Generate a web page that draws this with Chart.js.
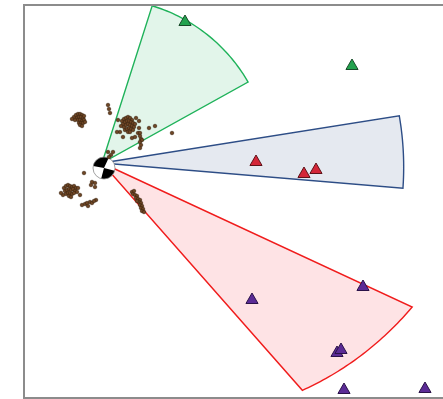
<!DOCTYPE html>
<html>
<head>
<meta charset="utf-8">
<script src="https://cdn.jsdelivr.net/npm/chart.js@4"></script>
<style>
    html, body { margin: 0; padding: 0; background: #ffffff; overflow: hidden; }
    #map { display: block; }
</style>
</head>
<body>
<canvas id="map" width="443" height="399"></canvas>
<script>
// Map extent (local east / north units)
const xRange = [0, 419];
const yRange = [0, 393];

// Epicentre and focal mechanism
const epicentre = [78, 235];
const mechanismCentre = [80, 230];
const mechanismRadius = 11;

// Azimuth sectors: start/end azimuth (deg from north) and reach at each edge
const sectorNames = ['north-east', 'east', 'south-east'];
const sectorAzStart = [17.7, 81.0, 114.9];
const sectorAzEnd = [61.0, 94.8, 138.6];
const sectorReachStart = [165, 301, 342];
const sectorReachEnd = [167, 302, 303];

// Stations
const greenStations = [[161, 376], [328, 332]];
const redStations = [[232, 236], [280, 224], [292, 228]];
const purpleStations = [[228, 98], [339, 111], [313, 45], [317, 48], [320, 8], [401, 9]];

// Seismicity (small events)
const events = [
    // western cluster
    [50, 281], [52, 283], [54, 284], [56, 284], [58, 283], [53, 280], [55, 281], [57, 281],
    [59, 280], [51, 278], [54, 278], [56, 278], [58, 277], [60, 278], [55, 275], [57, 275],
    [59, 275], [61, 276], [56, 273], [58, 272], [48, 279], [60, 282],
    [84, 293], [86, 285], [85, 289],
    // northern cluster
    [98, 277], [100, 279], [102, 280], [104, 281], [106, 280], [108, 278], [99, 274], [101, 276],
    [103, 277], [105, 277], [107, 276], [109, 275], [100, 271], [102, 273], [104, 274], [106, 273],
    [108, 272], [110, 271], [101, 268], [103, 269], [105, 270], [107, 269], [109, 268], [104, 266],
    [106, 266], [97, 272], [111, 274],
    [94, 278], [112, 280], [115, 277], [125, 270], [131, 272], [148, 265], [96, 266], [93, 266],
    [99, 261], [108, 260], [111, 261], [114, 265], [115, 270], [116, 265], [116, 262], [117, 259],
    [116, 256], [117, 253], [116, 250], [118, 258], [84, 246], [87, 243], [85, 241], [89, 246],
    // south-western cluster
    [40, 210], [42, 212], [44, 213], [46, 212], [48, 211], [50, 212], [52, 210], [41, 207],
    [43, 208], [45, 209], [47, 208], [49, 209], [51, 207], [53, 206], [42, 204], [44, 205],
    [46, 205], [48, 204], [50, 205], [39, 203], [45, 202], [47, 201], [54, 210],
    [60, 225], [68, 216], [67, 213], [71, 211], [71, 215], [56, 203], [37, 205], [72, 198],
    [58, 193], [61, 194], [63, 195], [66, 196], [68, 195], [70, 197], [64, 192],
    // southern cluster
    [108, 206], [110, 207], [109, 204], [111, 203], [113, 202], [112, 200], [114, 199], [116, 198],
    [115, 196], [117, 195], [116, 193], [118, 192], [117, 190], [119, 189], [118, 187], [120, 186],
    [113, 197]
];

const sectorStroke = ['#1fb25a', '#2d4d86', '#f01c1c'];
const sectorFill = ['rgba(30, 180, 90, 0.13)', 'rgba(45, 77, 134, 0.12)', 'rgba(250, 60, 70, 0.14)'];

function toPoints(list) {
    return list.map(p => ({ x: p[0], y: p[1] }));
}

// Sectors, focal mechanism and the map frame
const mapLayers = {
    id: 'mapLayers',
    beforeDatasetsDraw(chart) {
        const ctx = chart.ctx;
        const xs = chart.scales.x;
        const ys = chart.scales.y;
        const cx = xs.getPixelForValue(epicentre[0]);
        const cy = ys.getPixelForValue(epicentre[1]);
        const unit = xs.getPixelForValue(1) - xs.getPixelForValue(0);

        ctx.save();
        sectorNames.forEach((name, i) => {
            const a1 = sectorAzStart[i] * Math.PI / 180;
            const a2 = sectorAzEnd[i] * Math.PI / 180;
            const steps = 40;
            ctx.beginPath();
            ctx.moveTo(cx, cy);
            for (let s = 0; s <= steps; s++) {
                const t = s / steps;
                const a = a1 + (a2 - a1) * t;
                const r = (sectorReachStart[i] + (sectorReachEnd[i] - sectorReachStart[i]) * t) * unit;
                ctx.lineTo(cx + r * Math.sin(a), cy - r * Math.cos(a));
            }
            ctx.closePath();
            ctx.fillStyle = sectorFill[i];
            ctx.fill();
            ctx.strokeStyle = sectorStroke[i];
            ctx.lineWidth = 1.4;
            ctx.lineJoin = 'miter';
            ctx.stroke();
        });

        // beach ball
        const bx = xs.getPixelForValue(mechanismCentre[0]);
        const by = ys.getPixelForValue(mechanismCentre[1]);
        const br = mechanismRadius * unit;
        ctx.beginPath();
        ctx.arc(bx, by, br, 0, Math.PI * 2);
        ctx.fillStyle = '#ffffff';
        ctx.fill();
        ctx.fillStyle = '#000000';
        [[190, 295], [15, 105]].forEach(([s, e]) => {
            ctx.beginPath();
            ctx.moveTo(bx, by);
            ctx.arc(bx, by, br, s * Math.PI / 180, e * Math.PI / 180);
            ctx.closePath();
            ctx.fill();
        });
        ctx.beginPath();
        ctx.arc(bx, by, br, 0, Math.PI * 2);
        ctx.strokeStyle = '#8a8a8a';
        ctx.lineWidth = 0.8;
        ctx.stroke();
        ctx.restore();
    },
    afterDraw(chart) {
        const ctx = chart.ctx;
        const area = chart.chartArea;
        ctx.save();
        ctx.strokeStyle = '#8c8c8c';
        ctx.lineWidth = 2;
        ctx.beginPath();
        ctx.moveTo(area.right + 2, area.top);
        ctx.lineTo(area.left, area.top);
        ctx.lineTo(area.left, area.bottom);
        ctx.lineTo(area.right + 2, area.bottom);
        ctx.stroke();
        ctx.restore();
    }
};

new Chart(document.getElementById('map'), {
    type: 'scatter',
    data: {
        datasets: [
            {
                label: 'Events',
                data: toPoints(events),
                pointStyle: 'circle',
                pointRadius: 1.8,
                backgroundColor: '#6e4524',
                borderColor: '#3a230f',
                borderWidth: 0.6
            },
            {
                label: 'Green stations',
                data: toPoints(greenStations),
                pointStyle: 'triangle',
                pointRadius: 7,
                backgroundColor: '#22a24e',
                borderColor: '#174a28',
                borderWidth: 1
            },
            {
                label: 'Red stations',
                data: toPoints(redStations),
                pointStyle: 'triangle',
                pointRadius: 7,
                backgroundColor: '#d42638',
                borderColor: '#5e1218',
                borderWidth: 1
            },
            {
                label: 'Purple stations',
                data: toPoints(purpleStations),
                pointStyle: 'triangle',
                pointRadius: 7,
                backgroundColor: '#5b2b96',
                borderColor: '#2a1248',
                borderWidth: 1
            }
        ]
    },
    options: {
        responsive: false,
        animation: false,
        layout: { autoPadding: false, padding: { left: 24, top: 5, right: 0, bottom: 1 } },
        plugins: {
            legend: { display: false },
            tooltip: { enabled: false }
        },
        scales: {
            x: { type: 'linear', min: xRange[0], max: xRange[1], display: false },
            y: { type: 'linear', min: yRange[0], max: yRange[1], display: false }
        }
    },
    plugins: [mapLayers]
});
</script>
</body>
</html>
